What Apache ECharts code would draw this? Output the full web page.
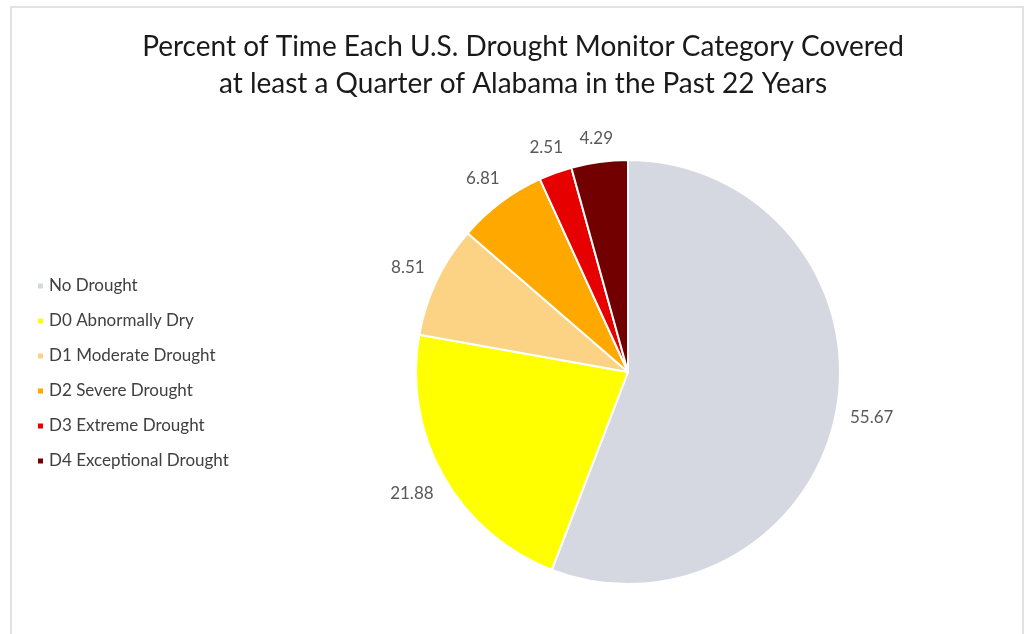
<!DOCTYPE html>
<html>
<head>
<meta charset="utf-8">
<script src="https://cdn.jsdelivr.net/npm/echarts@6/dist/echarts.min.js"></script>
<style>
  html, body { margin: 0; padding: 0; background: #fff; }
  #chart { width: 1026px; height: 634px; }
</style>
</head>
<body>
<div id="chart"></div>
<script>
const categories = [
  "No Drought",
  "D0 Abnormally Dry",
  "D1 Moderate Drought",
  "D2 Severe Drought",
  "D3 Extreme Drought",
  "D4 Exceptional Drought"
];
const percents = [55.67, 21.88, 8.51, 6.81, 2.51, 4.29];
const colors = ["#d5d8e0", "#ffff00", "#fcd384", "#ffa900", "#e60000", "#720000"];

const pieCenter = [628, 372];
const pieRadius = 212;

// mid angle of each slice (clockwise from 12 o'clock), used to put labels like Excel's "outside end"
const total = percents.reduce((a, b) => a + b, 0);
let acc = 0;
const midAngles = percents.map(v => {
  const mid = (acc + v / 2) / total * Math.PI * 2;
  acc += v;
  return mid;
});

const chart = echarts.init(document.getElementById("chart"));

chart.setOption({
  animation: false,
  textStyle: { fontFamily: "Lato" },
  title: {
    text: "Percent of Time Each U.S. Drought Monitor Category Covered\nat least a Quarter of Alabama in the Past 22 Years",
    left: 518,
    textAlign: "center",
    top: 23,
    textStyle: {
      fontFamily: "Lato",
      fontSize: 28,
      fontWeight: "normal",
      color: "#1a1a1a",
      lineHeight: 37
    }
  },
  legend: {
    orient: "vertical",
    left: 31,
    top: 272,
    itemWidth: 7,
    itemHeight: 7,
    itemGap: 17,
    icon: "rect",
    data: categories,
    textStyle: { fontSize: 17, lineHeight: 18, color: "#404040", fontFamily: "Lato" }
  },
  graphic: [
    {
      type: "rect",
      shape: { x: 11, y: 7, width: 1012, height: 640 },
      style: { fill: "none", stroke: "#d9d9d9", lineWidth: 1.5 },
      silent: true
    }
  ],
  series: [
    {
      type: "pie",
      center: pieCenter,
      radius: pieRadius,
      startAngle: 90,
      clockwise: true,
      itemStyle: { borderColor: "#fff", borderWidth: 2 },
      label: {
        show: true,
        position: "outside",
        formatter: "{c}",
        fontSize: 17,
        color: "#595959",
        fontFamily: "Lato"
      },
      labelLine: { show: false, length: 16, length2: 0 },
      labelLayout: function (params) {
        const a = midAngles[params.dataIndex];
        const dx = Math.sin(a);
        const dy = -Math.cos(a);
        const w = params.labelRect.width;
        const h = params.labelRect.height;
        const dist = pieRadius + 13 + Math.abs(dx) * w / 2 + Math.abs(dy) * h / 2;
        return {
          x: pieCenter[0] + dx * dist,
          y: pieCenter[1] + dy * dist,
          align: "center",
          verticalAlign: "middle"
        };
      },
      data: categories.map((name, i) => ({
        name: name,
        value: percents[i],
        itemStyle: { color: colors[i] }
      }))
    }
  ]
});
</script>
</body>
</html>
